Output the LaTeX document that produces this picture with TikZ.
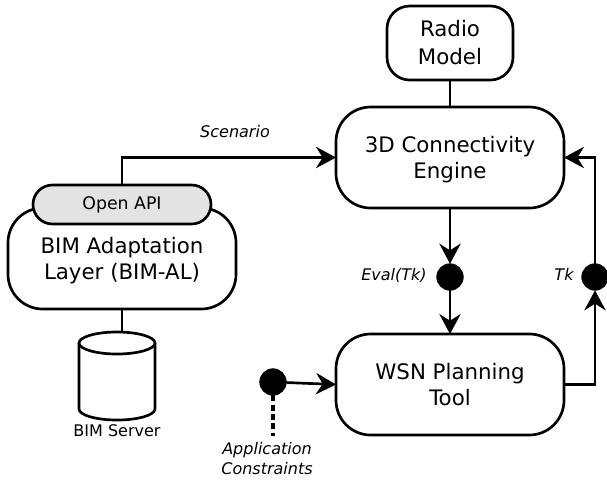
\documentclass[tikz,border=0pt]{standalone}
\usepackage{fontspec}
\setmainfont{DejaVu Sans}
\usetikzlibrary{arrows.meta}
\tikzset{
  box/.style={draw,line width=2pt,rounded corners=26pt,fill=white,minimum width=171pt,minimum height=75.75pt,align=center,font=\fontsize{16}{19.5}\selectfont,outer sep=0pt,inner sep=0pt},
  tap/.style={circle,fill=black,draw=black,minimum size=20pt,inner sep=0pt,outer sep=0pt},
  lbl/.style={font=\fontsize{12}{15}\selectfont\itshape,align=center,inner sep=0pt},
  link/.style={line width=2pt},
  arr/.style={link,-{Stealth[length=15pt,width=16pt,inset=5pt]}}
}
\begin{document}
\begin{tikzpicture}[x=0.75pt,y=-0.75pt]
\useasboundingbox (0,0) rectangle (607,480);
\node[box,text depth=0pt] (engine) at (450,157.5) {3D Connectivity\\Engine};
\node[box] (wsn) at (450,384.5) {WSN Planning\\Tool};
\node[box,minimum width=94.5pt,minimum height=55.5pt,rounded corners=17pt,font=\fontsize{16}{21}\selectfont] (radio) at (450,43) {Radio\\Model};
\node[box,text depth=0pt] (bim) at (122,258.5) {BIM Adaptation\\Layer (BIM-AL)};
\node[box,minimum width=133.5pt,minimum height=29.25pt,rounded corners=14.6pt,fill=black!11,font=\fontsize{13}{15}\selectfont] (api) at (122,204.5) {Open API};
% server drum
\draw[link,fill=white,line join=round] (79,343) -- (79,409) arc[x radius=38,y radius=11,start angle=180,end angle=0] -- (155,343);
\draw[link,fill=white] (117,343) ellipse[x radius=38,y radius=11];
\node[font=\fontsize{12}{14}\selectfont,inner sep=0pt] (serverlbl) at (117,431) {BIM Server};

\node[tap] (eval) at (450,277) {};
\node[tap] (tk) at (595,277) {};
\node[tap] (app) at (273,382) {};

\node[lbl] (scenario) at (235,132) {Scenario};
\node[lbl] (evallbl) at (394,275) {Eval(Tk)};
\node[lbl] (tklbl) at (564,274) {Tk};
\node[lbl] (applbl) at (267,459) {Application\\Constraints};

\coordinate (append) at (273,436);
\coordinate (scenstart) at (122,157.5);
\coordinate (tktop) at (595,157.5);
\coordinate (wsnout) at (595,384.5);
\coordinate (servertop) at (122,332);

\draw[link] (radio) -- (engine);
\draw[link] (bim.south) -- (servertop);
\draw[arr] (api.north) -- (scenstart) -- (engine.west);
\draw[arr] (engine) -- (eval);
\draw[arr] (eval) -- (wsn);
\draw[arr] (wsn.east) -- (wsnout) -- (tk);
\draw[arr] (tk) -- (tktop) -- (engine.east);
\draw[arr] (app) -- (wsn.west);
\draw[line width=2.4pt,dash pattern=on 4.5pt off 2.5pt] (app) -- (append);
\end{tikzpicture}
\end{document}
